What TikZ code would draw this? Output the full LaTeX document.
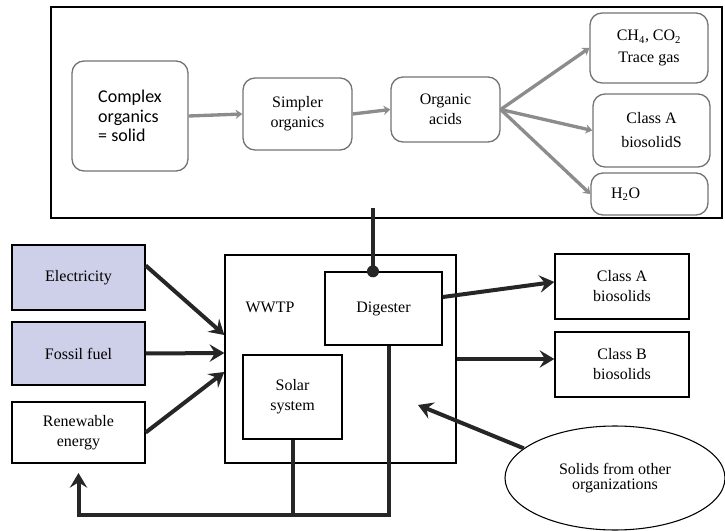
\documentclass[tikz,border=0pt]{standalone}
\usepackage{fontspec}
\setmainfont{Liberation Serif}
\newfontfamily\calibri{Carlito}
\usetikzlibrary{arrows.meta,shapes.geometric}
\definecolor{lavender}{HTML}{CDD0E8}

\begin{document}
\begin{tikzpicture}[x=0.75pt, y=-0.75pt, font=\fontsize{12}{15}\selectfont,
	stage/.style={draw, line width=1pt, inner sep=0pt, minimum width=503.25pt, minimum height=158.25pt},
	phase/.style={draw=black!55, line width=1pt, rounded corners=9pt, align=center, inner sep=2pt},
	unit/.style={draw, line width=1pt, align=center, inner sep=2pt},
	source/.style={unit, fill=lavender, minimum width=99.75pt},
	flow/.style={draw=black!45, line width=2.5pt, -{Stealth[length=5pt, width=7pt]}},
	power/.style={draw=black!85, line width=3pt},
	push/.style={power, -{Stealth[length=11pt, width=13pt, inset=4pt]}}]
	\useasboundingbox (0,0) rectangle (725,531);

	% Digestion stages
	\node[stage] (stage) at (386.5,112.5) {};
	\node[phase, minimum width=87pt, minimum height=82.5pt, font=\calibri\fontsize{13.5}{14.5}\selectfont, align=left]
		(complex) at (130,116) {Complex\\organics\\= solid};
	\node[phase, minimum width=81.75pt, minimum height=54pt] (simpler) at (297.5,114) {Simpler\\organics};
	\node[phase, minimum width=81.75pt, minimum height=48.75pt] (acids) at (445.5,109.5) {Organic\\acids};
	\node[phase, minimum width=88.5pt, minimum height=52.5pt] (gas) at (649,48) {CH\textsubscript{4}, CO\textsubscript{2}\\[1pt] Trace gas};
	\node[phase, minimum width=87.75pt, minimum height=54.75pt] (solidA) at (651.5,130.5) {Class A\\[3pt] biosolidS};
	\node[phase, minimum height=31.5pt, text width=57.75pt, inner xsep=15pt, align=left] (water) at (649.5,194) {H\textsubscript{2}O};

	\draw[flow] (complex.east) -- (simpler.west);
	\draw[flow] (simpler.east) -- (acids.west);
	\foreach \t in {gas, solidA, water} {
		\draw[flow] (acids.east) -- (\t.west);
	}

	% Energy sources
	\node[source, minimum height=48.75pt] (elec) at (78.5,277.5) {Electricity};
	\node[source, minimum height=47.25pt] (fossil) at (78.5,353.5) {Fossil fuel};
	\node[unit, minimum width=99.75pt, minimum height=45.75pt] (renew) at (78.5,432.5) {Renewable\\energy};

	% Treatment plant
	\node[unit, minimum width=173.25pt, minimum height=156pt] (wwtp) at (340.5,359) {};
	\node (tag) at (270,307) {WWTP};
	\node[unit, minimum width=87.75pt, minimum height=54.75pt] (digester) at (383.5,308.5) {Digester};
	\node[unit, minimum width=74.25pt, minimum height=63pt] (solar) at (292.5,397) {Solar\\system};

	% Products and outside solids
	\node[unit, minimum width=100.5pt, minimum height=48.75pt] (classA) at (622,286.5) {Class A\\biosolids};
	\node[unit, minimum width=100.5pt, minimum height=48.75pt] (classB) at (622,364.5) {Class B\\biosolids};
	\node[ellipse, draw, line width=0.8pt, inner sep=0pt, minimum width=165pt, minimum height=78pt,
		align=center, font=\fontsize{12}{11.5}\selectfont] (others) at (615,478) {Solids from other\\organizations};
	\coordinate (drop) at (418,405);
	\coordinate (base) at (0,515);

	% Links
	\coordinate (tap) at ([xshift=-7.9pt]digester.north);
	\draw[power] ([yshift=8pt]stage.south -| tap) -- (tap);
	\fill[black!85] (tap) circle (4.5pt);

	\draw[push] ([yshift=9pt]elec.east) -- ([yshift=18pt]wwtp.west);
	\draw[push] (fossil.east) -- ([yshift=4.5pt]wwtp.west);
	\draw[push] (renew.east) -- ([yshift=-9.75pt]wwtp.west);

	\draw[push] ([yshift=8.6pt]digester.east) -- ([yshift=3.4pt]classA.west);
	\draw[push] (wwtp.east) -- (wwtp.east -| classB.west);
	\draw[push] (others.162) -- (drop);

	\draw[power] (solar.south) -- (solar.south |- base);
	\draw[push] ([xshift=4pt]digester.south) |- (base -| renew.south) -- ([yshift=-7pt]renew.south);
\end{tikzpicture}
\end{document}
